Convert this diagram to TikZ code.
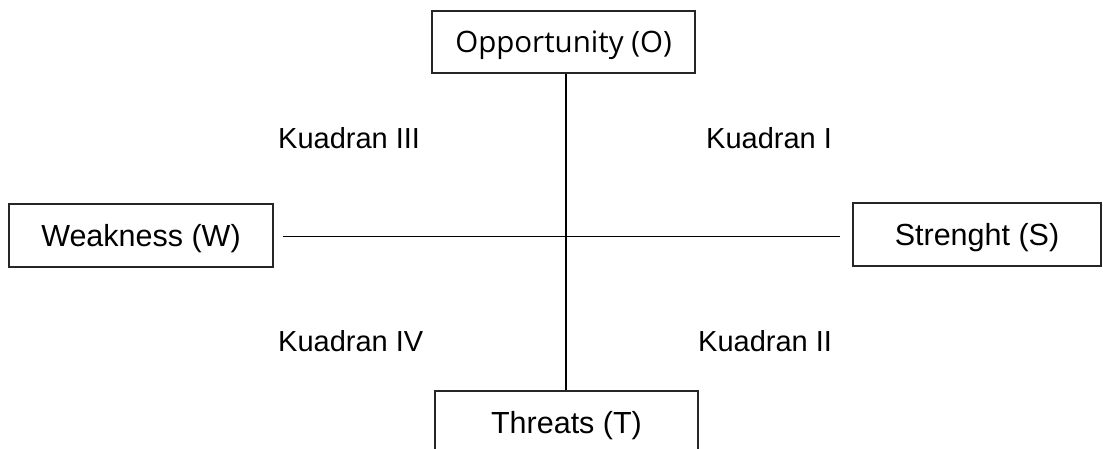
\documentclass[tikz,border=0pt]{standalone}
\usepackage{fontspec}
\setmainfont{Liberation Sans}
\newfontfamily\humfont{Open Sans}
\begin{document}
\begin{tikzpicture}[x=1pt,y=-1pt,
  box/.style={draw=black!85, line width=1.3pt, inner sep=0pt, text height=22pt, text depth=0pt,
    font=\fontsize{30.5}{36}\selectfont},
  lbl/.style={anchor=base west, inner sep=0pt, font=\fontsize{29}{34}\selectfont},
  conn/.style={line width=1.6pt}]
\useasboundingbox[fill=white] (0,0) rectangle (1103,448);
\node[box, minimum width=263pt, minimum height=62pt, text height=21pt,
  font=\humfont\fontsize{29.5}{35}\selectfont] (O) at (563.5,42) {Opportunity (O)};
\node[box, minimum width=264pt, minimum height=63pt] (W) at (141,235.5) {Weakness (W)};
\node[box, minimum width=248pt, minimum height=63pt] (S) at (977,234.5) {Strenght (S)};
\node[box, minimum width=263pt, minimum height=62pt] (T) at (566.5,422) {Threats (T)};
\coordinate (v) at (566,0);
\coordinate (h) at (0,236.5);
\draw[conn] (O.south -| v) -- (T.north -| v);
\draw[conn, shorten <=9pt, shorten >=12pt] (W.east |- h) -- (S.west |- h);
\node[lbl] (k3) at (278,148) {Kuadran III};
\node[lbl] (k1) at (706,148) {Kuadran I};
\node[lbl] (k4) at (278,351) {Kuadran IV};
\node[lbl] (k2) at (698,351) {Kuadran II};
\end{tikzpicture}
\end{document}
